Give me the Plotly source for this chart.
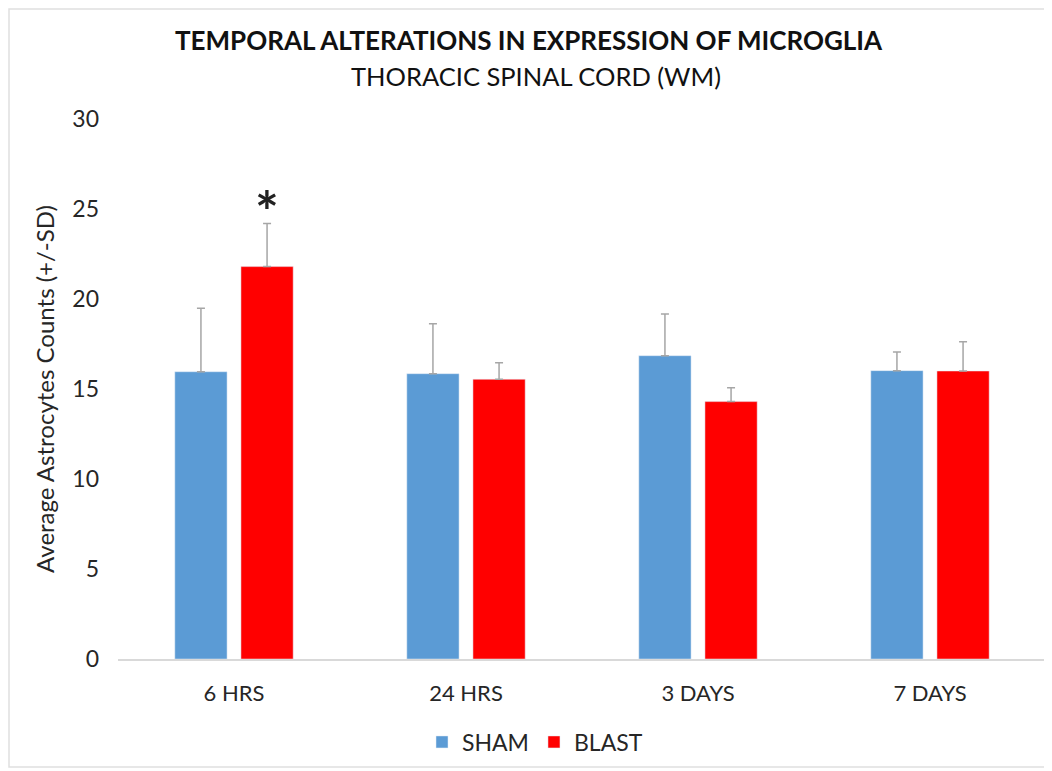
import plotly.graph_objects as go

categories = ["6 HRS", "24 HRS", "3 DAYS", "7 DAYS"]
sham = [15.96, 15.85, 16.85, 16.02]
sham_sd = [3.52, 2.77, 2.32, 1.04]
blast = [21.8, 15.54, 14.3, 16.0]
blast_sd = [2.39, 0.92, 0.77, 1.63]
y_ticks = [0, 5, 10, 15, 20, 25, 30]

# page body has an 8px margin; figure is sized to fit the 1052x771 window
W, H = 1044, 763
L, R, T, B = 110, 6, 111, 112
pw, ph = W - L - R, H - T - B

FONT = "Lato, Carlito, Calibri, sans-serif"
err_style = dict(type="data", visible=True, color="#a6a6a6", thickness=1.5, width=4)


def py(ypix):
    """viewport pixel y -> paper y"""
    return 1 + (T - (ypix - 8)) / ph


def px(xpix):
    return ((xpix - 8) - L) / pw


fig = go.Figure()
fig.add_trace(go.Bar(name="SHAM", x=categories, y=sham, marker_color="#5B9BD5",
                     error_y=dict(array=sham_sd, symmetric=False, arrayminus=[0]*4, **err_style)))
fig.add_trace(go.Bar(name="BLAST", x=categories, y=blast, marker_color="#FF0000",
                     error_y=dict(array=blast_sd, symmetric=False, arrayminus=[0]*4, **err_style)))

# significance marker above 6 HRS BLAST
fig.add_annotation(x=categories[0], y=blast[0] + blast_sd[0], xshift=33, yshift=-22,
                   text="<b>*</b>", showarrow=False, yanchor="bottom",
                   font=dict(size=56, color="#222222", family=FONT))

# titles
fig.add_annotation(xref="paper", yref="paper", x=px(529), y=py(40), xanchor="center", yanchor="middle",
                   text="<b>TEMPORAL ALTERATIONS IN EXPRESSION OF MICROGLIA</b>", showarrow=False,
                   font=dict(size=26, family=FONT, color="#111111"))
fig.add_annotation(xref="paper", yref="paper", x=px(536), y=py(76), xanchor="center", yanchor="middle",
                   text="THORACIC SPINAL CORD (WM)", showarrow=False,
                   font=dict(size=25.5, family=FONT, color="#111111"))

# outer frame
fig.add_shape(type="rect", xref="paper", yref="paper",
              x0=px(9), x1=px(1049), y0=py(767), y1=py(9),
              line=dict(color="#e0e0e0", width=1.5), fillcolor="rgba(0,0,0,0)", layer="below")

fig.update_layout(
    width=W, height=H,
    margin=dict(l=L, r=R, t=T, b=B),
    paper_bgcolor="white", plot_bgcolor="white",
    barmode="group", bargap=0.43, bargroupgap=0.21,
    font=dict(family=FONT, color="#262626"),
    showlegend=True,
    legend=dict(orientation="h", x=px(422), xanchor="left", y=py(742), yanchor="middle",
                font=dict(size=23, family=FONT, color="#262626"), itemwidth=30, traceorder="normal"),
    yaxis=dict(range=[0, 30], tickvals=y_ticks, showgrid=False, zeroline=False, showline=False,
               tickfont=dict(size=23, family=FONT, color="#262626"), ticks="", ticklabelstandoff=18,
               title=dict(text="Average Astrocytes Counts (+/-SD)", standoff=10,
                          font=dict(size=24, family=FONT, color="#262626"))),
    xaxis=dict(showline=True, linecolor="#d9d9d9", linewidth=1.5, ticks="",
               tickfont=dict(size=22, family=FONT, color="#262626"), ticklabelstandoff=14),
)

fig.write_html("out.html")
